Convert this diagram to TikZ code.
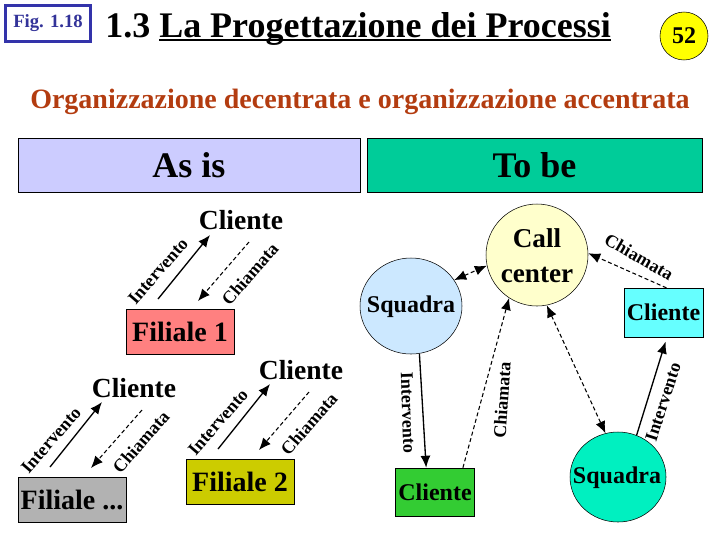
\documentclass[tikz,border=0pt]{standalone}
\usepackage{fontspec}
\usepackage{xcolor}
\usetikzlibrary{arrows.meta,shapes.geometric}
\setmainfont{Liberation Serif}
\newcommand{\ulbar}[1]{\setbox0\hbox{#1}\rlap{\vrule width\wd0 height -1.4pt depth 3.2pt}\box0}
\newcommand{\bfpx}[1]{\fontsize{#1}{#1}\selectfont\bfseries}
\tikzset{
  boxnode/.style={draw,rectangle,inner sep=0pt,minimum width=81pt,minimum height=33.75pt,font=\bfpx{21}},
  smallbox/.style={draw,rectangle,inner sep=0pt,font=\bfpx{18}},
  roundnode/.style={draw,ellipse,inner sep=0pt},
  roundtext/.style={inner sep=0pt,font=\bfpx{18}},
  clientlabel/.style={inner sep=0pt,font=\bfpx{20.7}},
  flowlabel/.style={inner sep=0pt,font=\bfpx{13.5}},
  solidflow/.style={line width=1pt,-{Latex[length=9pt,width=7.5pt]}},
  dashflow/.style={line width=0.8pt,dash pattern=on 3pt off 2pt,-{Latex[length=9pt,width=7.5pt]}},
  dashboth/.style={line width=0.8pt,dash pattern=on 3pt off 2pt,{Latex[length=9pt,width=7.5pt]}-{Latex[length=9pt,width=7.5pt]}}
}
\begin{document}
\begin{tikzpicture}[x=0.75pt,y=0.75pt,yscale=-1,xscale=1]
\useasboundingbox (0,0) rectangle (720,540);

% Header
\node (figbox) [draw={rgb, 255:red, 51; green, 51; blue, 170 },line width=2.2pt,fill=white,rectangle,inner sep=0pt,minimum width=63.5pt,minimum height=27pt,text={rgb, 255:red, 51; green, 51; blue, 153 },font=\bfpx{14}] at (48,23.5) {Fig. 1.18};
\node (title) [inner sep=0pt,anchor=base west,font=\bfpx{27}] at (105,37) {1.3 \ulbar{La Progettazione dei Processi}};
\node (pagenum) [draw,circle,fill={rgb, 255:red, 255; green, 255; blue, 0 },inner sep=0pt,minimum size=36pt,font=\bfpx{18}] at (684,36) {52};
\node (subtitle) [inner sep=0pt,anchor=base west,text={rgb, 255:red, 179; green, 60; blue, 16 },font=\bfpx{21}] at (30,108) {Organizzazione decentrata e organizzazione accentrata};

%Shape: Rectangle
\node (asis) [draw,rectangle,fill={rgb, 255:red, 204; green, 204; blue, 255 },inner sep=0pt,minimum width=256.5pt,minimum height=40.5pt,font=\bfpx{27}] at (189,165) {As is};
\node (tobe) [draw,rectangle,fill={rgb, 255:red, 0; green, 204; blue, 153 },inner sep=0pt,minimum width=251pt,minimum height=40.5pt,font=\bfpx{27}] at (534.5,165) {To be};

% As is side
\node (filialeA) [boxnode,fill={rgb, 255:red, 255; green, 128; blue, 128 }] at (180,331.5) {Filiale 1};
\node (filialeB) [boxnode,fill={rgb, 255:red, 204; green, 204; blue, 0 }] at (240,481.5) {Filiale 2};
\node (filialeC) [boxnode,fill={rgb, 255:red, 178; green, 178; blue, 178 }] at (72,499.5) {Filiale ...};

\node (clienteA) [clientlabel] at (241,220) {Cliente};
\node (clienteB) [clientlabel] at (301,370) {Cliente};
\node (clienteC) [clientlabel] at (134,388) {Cliente};

\coordinate (startA) at (158,299);
\coordinate (endA) at (210,235);
\coordinate (callA) at (249,242);
\coordinate (backA) at (198,301);
\coordinate (startB) at (218,449);
\coordinate (endB) at (270,384);
\coordinate (callB) at (309,392);
\coordinate (backB) at (259,450);
\coordinate (startC) at (50,467);
\coordinate (endC) at (102,402);
\coordinate (callC) at (142,410);
\coordinate (backC) at (91,468);

%Straight Lines
\draw [solidflow] (startA) -- (endA);
\draw [dashflow] (callA) -- (backA);
\draw [solidflow] (startB) -- (endB);
\draw [dashflow] (callB) -- (backB);
\draw [solidflow] (startC) -- (endC);
\draw [dashflow] (callC) -- (backC);

% Text Node
\node (intA) [flowlabel,rotate=49] at (158,271) {Intervento};
\node (chiA) [flowlabel,rotate=49] at (250,274) {Chiamata};
\node (intB) [flowlabel,rotate=49] at (218,422) {Intervento};
\node (chiB) [flowlabel,rotate=49] at (309,424) {Chiamata};
\node (intC) [flowlabel,rotate=49] at (51,440) {Intervento};
\node (chiC) [flowlabel,rotate=49] at (141,442) {Chiamata};

% To be side
\node (callcenter) [roundnode,fill={rgb, 255:red, 255; green, 255; blue, 204 },minimum width=76.5pt,minimum height=76.5pt] at (537,255) {};
\node (squadraA) [roundnode,fill={rgb, 255:red, 204; green, 232; blue, 255 },minimum width=76.5pt,minimum height=72pt] at (411,306) {};
\node (squadraB) [roundnode,fill={rgb, 255:red, 0; green, 240; blue, 192 },minimum width=72pt,minimum height=67.5pt] at (618,477) {};
\node (clienteD) [smallbox,fill={rgb, 255:red, 102; green, 255; blue, 255 },minimum width=59pt,minimum height=36.5pt] at (663.5,312.5) {Cliente};
\node (clienteE) [smallbox,fill={rgb, 255:red, 51; green, 204; blue, 51 },minimum width=59pt,minimum height=36pt] at (435,492) {Cliente};

% Text Node
\node (callText) [roundtext,align=center,font=\bfpx{20.4}] at (537,256) {Call\\[6pt]center};
\node (squadraTextA) [roundtext] at (411,307) {Squadra};
\node (squadraTextB) [roundtext] at (617,478) {Squadra};

%Straight Lines
\draw [dashboth] (squadraA.31) -- (callcenter.192);
\draw [dashflow] (clienteD.83) -- (callcenter.2);
\draw [dashboth] (callcenter.281) -- (squadraB.106);
\draw [solidflow] (squadraA.280) -- (clienteE.110);
\draw [dashflow] (clienteE.41) -- (callcenter.237);
\draw [solidflow,shorten >=3.5pt] (squadraB.66) -- (clienteD.278);

% Text Node
\node (intD) [flowlabel,rotate=-88] at (408,413) {Intervento};
\node (chiD) [flowlabel,rotate=86] at (502,400) {Chiamata};
\node (chiE) [flowlabel,rotate=-30] at (639,257) {Chiamata};
\node (intE) [flowlabel,rotate=72] at (663,402) {Intervento};

\end{tikzpicture}
\end{document}
